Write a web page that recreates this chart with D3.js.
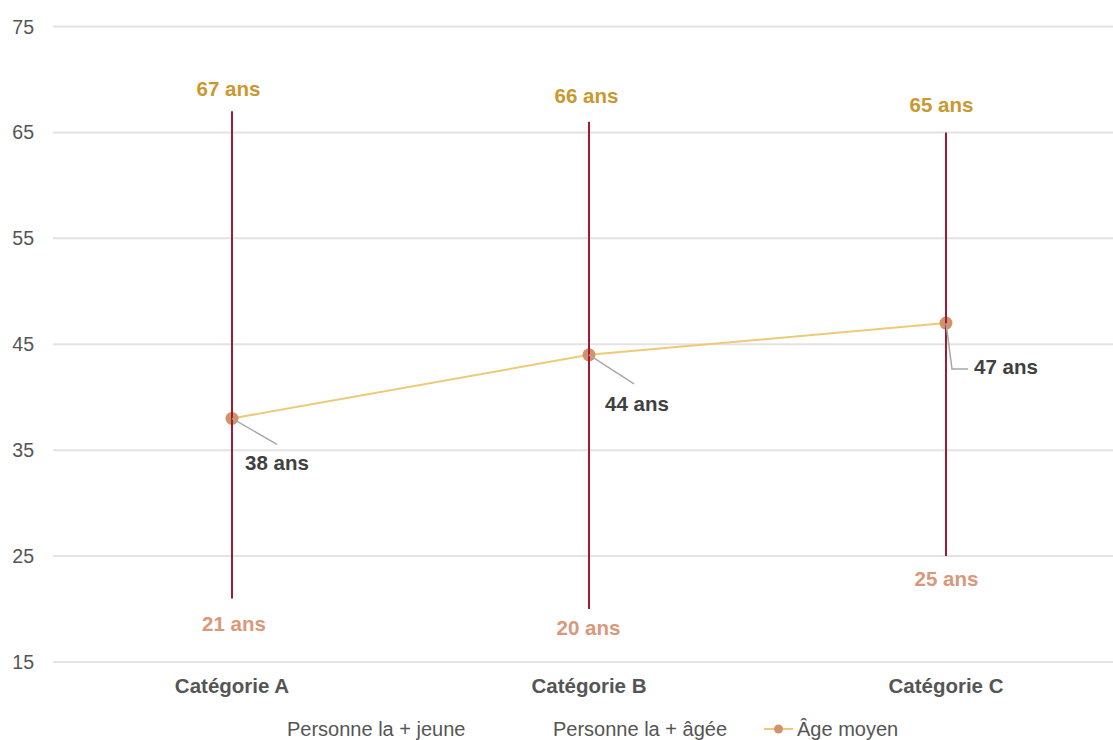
<!DOCTYPE html>
<html><head><meta charset="utf-8">
<script src="https://cdn.jsdelivr.net/npm/d3@7"></script>
<style>body{margin:0;background:#fff}svg{display:block;font-family:"Liberation Sans",Arial,sans-serif}</style>
</head><body><svg id="c" width="1113" height="740"></svg>
<script>
const categories = ["Catégorie A", "Catégorie B", "Catégorie C"];
const youngest = [21, 20, 25];
const oldest = [67, 66, 65];
const average = [38, 44, 47];
const yTicks = [15, 25, 35, 45, 55, 65, 75];
const legendLabels = ["Personne la + jeune", "Personne la + âgée", "Âge moyen"];

// label layout offsets (pixels)
const maxOff = [[-3.5, -15], [-2.5, -18.5], [-4.5, -20]];
const minOff = [[2, 32.5], [-0.5, 26], [0.5, 30]];

const svg = d3.select("#c");
const x = d3.scaleBand().domain(categories).range([53.5, 1124.5]);
const cx = c => x(c) + x.bandwidth() / 2;
const y = d3.scaleLinear().domain([15, 75]).range([662, 26.5]);

// grid
svg.append("g").selectAll("line").data(yTicks).join("line")
  .attr("x1", 53).attr("x2", 1113)
  .attr("y1", d => y(d)).attr("y2", d => y(d))
  .attr("stroke", "#e3e3e3").attr("stroke-width", 2);
svg.append("g").selectAll("text").data(yTicks).join("text")
  .attr("x", 34).attr("y", d => y(d) + 7)
  .attr("text-anchor", "end").attr("fill", "#555").attr("font-size", 19.5)
  .text(d => d);

// category labels
svg.append("g").selectAll("text").data(categories).join("text")
  .attr("x", cx).attr("y", 693)
  .attr("text-anchor", "middle").attr("fill", "#555").attr("font-size", 20.5).attr("font-weight", "bold")
  .text(d => d);

// average line
const avgData = categories.map((c, i) => ({c, v: average[i]}));
svg.append("path").datum(avgData)
  .attr("d", d3.line().x(d => cx(d.c)).y(d => y(d.v)))
  .attr("fill", "none").attr("stroke", "#efc978").attr("stroke-width", 2);
svg.append("g").selectAll("circle").data(avgData).join("circle")
  .attr("cx", d => cx(d.c)).attr("cy", d => y(d.v)).attr("r", 6.5)
  .attr("fill", "#d4926a");

// hi-low lines
svg.append("g").selectAll("line").data(categories).join("line")
  .attr("x1", cx).attr("x2", cx)
  .attr("y1", (d, i) => y(oldest[i])).attr("y2", (d, i) => y(youngest[i]))
  .attr("stroke", "#9e1b32").attr("stroke-width", 2);

// max labels
svg.append("g").selectAll("text").data(categories).join("text")
  .attr("x", (d, i) => cx(d) + maxOff[i][0]).attr("y", (d, i) => y(oldest[i]) + maxOff[i][1])
  .attr("text-anchor", "middle").attr("fill", "#c9982e").attr("font-size", 20.5).attr("font-weight", "bold")
  .text((d, i) => oldest[i] + " ans");
// min labels
svg.append("g").selectAll("text").data(categories).join("text")
  .attr("x", (d, i) => cx(d) + minOff[i][0]).attr("y", (d, i) => y(youngest[i]) + minOff[i][1])
  .attr("text-anchor", "middle").attr("fill", "#d9987a").attr("font-size", 20.5).attr("font-weight", "bold")
  .text((d, i) => youngest[i] + " ans");

// average labels with leader lines
const leaders = [
  {pts: [[0, 0], [45, 26]], lx: 13, ly: 52},
  {pts: [[0, 0], [45, 29]], lx: 16, ly: 56},
  {pts: [[0, 0], [6, 46], [22, 46]], lx: 28, ly: 51}
];
avgData.forEach((d, i) => {
  const px = cx(d.c), py = y(d.v), L = leaders[i];
  svg.append("path")
    .attr("d", d3.line()(L.pts.map(p => [px + p[0], py + p[1]])))
    .attr("fill", "none").attr("stroke", "#a8a8a8").attr("stroke-width", 1.5);
  svg.append("text").attr("x", px + L.lx).attr("y", py + L.ly)
    .attr("fill", "#404040").attr("font-size", 20.5).attr("font-weight", "bold")
    .text(d.v + " ans");
});

// legend
const lg = svg.append("g").attr("font-size", 20).attr("fill", "#555");
lg.append("text").attr("x", 287).attr("y", 736).text(legendLabels[0]);
lg.append("text").attr("x", 553).attr("y", 736).text(legendLabels[1]);
lg.append("line").attr("x1", 764).attr("x2", 793).attr("y1", 729).attr("y2", 729)
  .attr("stroke", "#efc978").attr("stroke-width", 2);
lg.append("circle").attr("cx", 778.5).attr("cy", 729).attr("r", 4.5).attr("fill", "#d4926a");
lg.append("text").attr("x", 797).attr("y", 736).text(legendLabels[2]);
</script></body></html>
